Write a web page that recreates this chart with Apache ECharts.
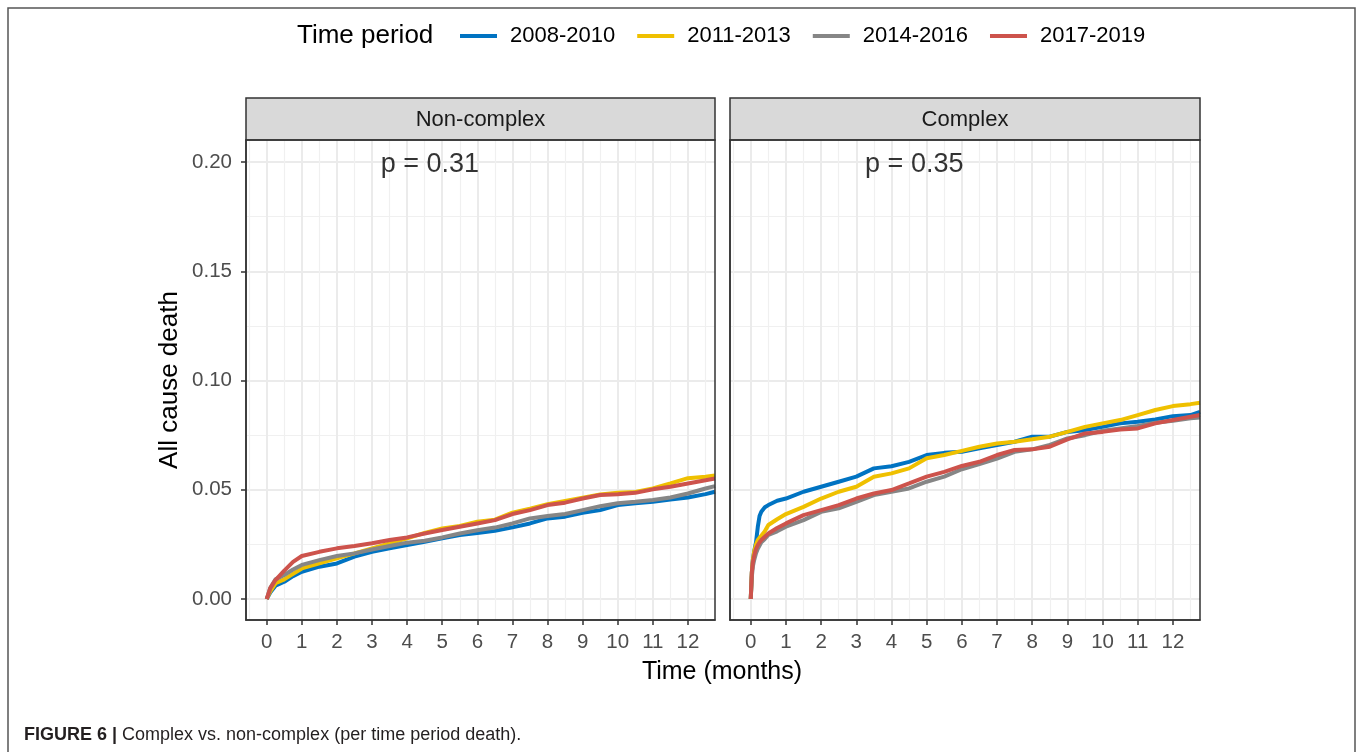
<!DOCTYPE html>
<html>
<head>
<meta charset="utf-8">
<title>Complex vs. non-complex</title>
<script src="https://cdn.jsdelivr.net/npm/echarts@6.0.0/dist/echarts.min.js"></script>
<style>
  html, body { margin: 0; padding: 0; background: #fff; }
  #chart { width: 1357px; height: 752px; }
</style>
</head>
<body>
<div id="chart"></div>
<script>
// 分组与面板
const periods = ['2008-2010', '2011-2013', '2014-2016', '2017-2019']
const panels = ['Non-complex', 'Complex']
const pValues = ['p = 0.31', 'p = 0.35']

// 刻度
const monthTicks = [0, 1, 2, 3, 4, 5, 6, 7, 8, 9, 10, 11, 12]
const monthMinor = [-0.5, 0.5, 1.5, 2.5, 3.5, 4.5, 5.5, 6.5, 7.5, 8.5, 9.5, 10.5, 11.5, 12.5]
const deathTicks = [0, 0.05, 0.1, 0.15, 0.2]
const deathMinor = [0.025, 0.075, 0.125, 0.175]

// Non-complex 面板（月份 / 累计死亡）
const timeNonComplex = [0, 0.1, 0.25, 0.5, 0.75, 1, 1.5, 2, 2.5, 3, 3.5, 4, 4.5, 5, 5.5, 6, 6.5, 7, 7.5, 8, 8.5, 9, 9.5, 10, 10.5, 11, 11.5, 12, 12.5, 12.77]
const nonComplex2008 = [0, 0.003, 0.0061, 0.0079, 0.0105, 0.0125, 0.0148, 0.0163, 0.0194, 0.0216, 0.0232, 0.0247, 0.0262, 0.0278, 0.0293, 0.0302, 0.0312, 0.0328, 0.0346, 0.0369, 0.0377, 0.0395, 0.0407, 0.043, 0.0438, 0.0445, 0.0456, 0.0465, 0.048, 0.0491]
const nonComplex2011 = [0, 0.0035, 0.0072, 0.009, 0.0115, 0.014, 0.0163, 0.0186, 0.0209, 0.0232, 0.0255, 0.0278, 0.0303, 0.0323, 0.0334, 0.0354, 0.0363, 0.0395, 0.0414, 0.0434, 0.0449, 0.0464, 0.0478, 0.0486, 0.049, 0.0506, 0.0529, 0.0553, 0.056, 0.0565]
const nonComplex2014 = [0, 0.005, 0.009, 0.011, 0.0135, 0.0156, 0.0178, 0.0197, 0.0209, 0.0227, 0.0243, 0.0258, 0.0267, 0.0282, 0.03, 0.0315, 0.0327, 0.0346, 0.0369, 0.038, 0.0389, 0.0407, 0.0425, 0.0438, 0.0445, 0.0453, 0.0465, 0.0483, 0.0506, 0.0517]
const nonComplex2017 = [0, 0.005, 0.0087, 0.013, 0.017, 0.0197, 0.0216, 0.0232, 0.0243, 0.0255, 0.027, 0.0282, 0.03, 0.0316, 0.0331, 0.0346, 0.0361, 0.0389, 0.0407, 0.043, 0.0441, 0.046, 0.0476, 0.048, 0.0486, 0.0502, 0.0514, 0.0529, 0.0544, 0.0552]

// Complex 面板
const timeComplex = [0, 0.03, 0.06, 0.1, 0.15, 0.2, 0.25, 0.3, 0.4, 0.5, 0.75, 1, 1.5, 2, 2.5, 3, 3.5, 4, 4.5, 5, 5.5, 6, 6.5, 7, 7.5, 8, 8.5, 9, 9.5, 10, 10.5, 11, 11.5, 12, 12.5, 12.77]
const complex2008 = [0, 0.012, 0.018, 0.022, 0.026, 0.033, 0.038, 0.04, 0.042, 0.043, 0.045, 0.046, 0.0491, 0.0514, 0.0537, 0.056, 0.0598, 0.0608, 0.0628, 0.0659, 0.0669, 0.0674, 0.069, 0.0705, 0.072, 0.0743, 0.0743, 0.0765, 0.0773, 0.0788, 0.0804, 0.0811, 0.0822, 0.0837, 0.0842, 0.0857]
const complex2011 = [0, 0.012, 0.018, 0.022, 0.025, 0.027, 0.028, 0.029, 0.031, 0.0339, 0.0365, 0.0389, 0.0422, 0.046, 0.0491, 0.0514, 0.056, 0.0575, 0.0598, 0.0644, 0.0659, 0.0678, 0.0697, 0.0712, 0.072, 0.0731, 0.0743, 0.0765, 0.0788, 0.0804, 0.0819, 0.0842, 0.0865, 0.0883, 0.0892, 0.0898]
const complex2014 = [0, 0.01, 0.015, 0.018, 0.021, 0.023, 0.0245, 0.026, 0.0275, 0.0293, 0.031, 0.0331, 0.0361, 0.0399, 0.0415, 0.0445, 0.0476, 0.0491, 0.0506, 0.0537, 0.056, 0.0594, 0.0618, 0.0643, 0.0674, 0.0685, 0.0705, 0.0735, 0.075, 0.077, 0.0781, 0.0792, 0.0807, 0.0816, 0.0827, 0.0831]
const complex2017 = [0, 0.012, 0.017, 0.02, 0.023, 0.0247, 0.026, 0.027, 0.0285, 0.03, 0.0325, 0.0346, 0.0384, 0.0407, 0.043, 0.046, 0.0483, 0.0499, 0.0529, 0.056, 0.0582, 0.0609, 0.0628, 0.0659, 0.0682, 0.0685, 0.0697, 0.0731, 0.0758, 0.0765, 0.0776, 0.0781, 0.0804, 0.0819, 0.0834, 0.0842]

const colors = ['#0073C2', '#EFC000', '#868686', '#CD534C']
const font = '"Liberation Sans", Arial, Helvetica, sans-serif'

// 面板位置
const panelBoxes = [
  { left: 246, top: 140, width: 469, height: 480 },
  { left: 730, top: 140, width: 470, height: 480 }
]
const X_MIN = -0.59
const X_MAX = 12.77
const Y_MIN = -0.0096
const Y_MAX = 0.2101

const toPairs = (t, v) => t.map((x, i) => [x, v[i]])

const seriesData = [
  [nonComplex2008, nonComplex2011, nonComplex2014, nonComplex2017],
  [complex2008, complex2011, complex2014, complex2017]
]
const seriesTimes = [timeNonComplex, timeComplex]

const gridLine = { color: '#EBEBEB', width: 2 }
const minorLine = { color: '#F0F0F0', width: 1.2 }

const xAxes = []
const yAxes = []
panelBoxes.forEach((box, p) => {
  // 主轴
  xAxes.push({
    type: 'value', gridIndex: p, min: X_MIN, max: X_MAX,
    axisLine: { show: true, onZero: false, lineStyle: { color: '#333', width: 1.5 } },
    axisTick: { show: true, customValues: monthTicks, length: 5, lineStyle: { color: '#333', width: 1.5 } },
    axisLabel: { show: true, customValues: monthTicks, color: '#4D4D4D', fontSize: 20.5, fontFamily: font, margin: 12 },
    splitLine: { show: true, lineStyle: gridLine }
  })
  // 次网格
  xAxes.push({
    type: 'value', gridIndex: p, min: X_MIN, max: X_MAX,
    axisLine: { show: false }, axisTick: { show: false, customValues: monthMinor },
    axisLabel: { show: false }, splitLine: { show: true, lineStyle: minorLine }
  })
  yAxes.push({
    type: 'value', gridIndex: p, min: Y_MIN, max: Y_MAX,
    axisLine: { show: true, onZero: false, lineStyle: { color: '#333', width: 1.5 } },
    axisTick: { show: p === 0, customValues: deathTicks, length: 5, lineStyle: { color: '#333', width: 1.5 } },
    axisLabel: {
      show: p === 0, customValues: deathTicks, color: '#4D4D4D', fontSize: 20.5, fontFamily: font, margin: 14,
      formatter: (v) => v.toFixed(2)
    },
    splitLine: { show: true, lineStyle: gridLine }
  })
  yAxes.push({
    type: 'value', gridIndex: p, min: Y_MIN, max: Y_MAX,
    axisLine: { show: false }, axisTick: { show: false, customValues: deathMinor },
    axisLabel: { show: false }, splitLine: { show: true, lineStyle: minorLine }
  })
})

const series = []
panelBoxes.forEach((box, p) => {
  periods.forEach((name, s) => {
    series.push({
      name,
      type: 'line',
      xAxisIndex: p * 2,
      yAxisIndex: p * 2,
      data: toPairs(seriesTimes[p], seriesData[p][s]),
      showSymbol: false,
      symbol: 'none',
      lineStyle: { color: colors[s], width: 4 },
      itemStyle: { color: colors[s] },
      z: 3 + s
    })
  })
  // p 值标注
  series.push({
    type: 'scatter',
    xAxisIndex: p * 2,
    yAxisIndex: p * 2,
    data: [[3.25, 0.2]],
    symbolSize: 0,
    silent: true,
    label: {
      show: true, position: 'right', distance: 0, offset: [0, 2],
      formatter: pValues[p], color: '#000', fontSize: 27, fontFamily: font
    }
  })
})

const graphics = [
  // 外框
  { type: 'rect', shape: { x: 8, y: 8, width: 1347, height: 800 }, style: { fill: 'none', stroke: '#555', lineWidth: 1.5 }, silent: true },
  // 图例标题
  { type: 'text', x: 297, y: 36, style: { text: 'Time period', fontSize: 26, fontFamily: font, fill: '#000', textVerticalAlign: 'middle' } },
  // 坐标轴标题
  { type: 'text', x: 170, y: 380, rotation: Math.PI / 2, style: { text: 'All cause death', fontSize: 26, fontFamily: font, fill: '#000', textAlign: 'center', textVerticalAlign: 'middle' } },
  { type: 'text', x: 722, y: 672, style: { text: 'Time (months)', fontSize: 25, fontFamily: font, fill: '#000', textAlign: 'center', textVerticalAlign: 'middle' } },
  // 图注
  {
    type: 'text', x: 24, y: 735,
    style: {
      text: '{b|FIGURE 6 | }{n|Complex vs. non-complex (per time period death).}',
      textVerticalAlign: 'middle',
      rich: {
        b: { fontSize: 18, fontWeight: 'bold', fontFamily: font, fill: '#231F20' },
        n: { fontSize: 18, fontFamily: font, fill: '#231F20' }
      }
    }
  }
]
panelBoxes.forEach((box, p) => {
  graphics.push({
    type: 'rect', z: 50,
    shape: { x: box.left, y: 98, width: box.width, height: 42 },
    style: { fill: '#D9D9D9', stroke: '#333', lineWidth: 1.5 }
  })
  graphics.push({
    type: 'text', z: 51, x: box.left + box.width / 2, y: 120,
    style: { text: panels[p], fontSize: 22, fontFamily: font, fill: '#1A1A1A', textAlign: 'center', textVerticalAlign: 'middle' }
  })
  graphics.push({
    type: 'rect', z: 50,
    shape: { x: box.left, y: box.top, width: box.width, height: box.height },
    style: { fill: 'none', stroke: '#333', lineWidth: 1.5 }
  })
})

const option = {
  animation: false,
  backgroundColor: '#fff',
  textStyle: { fontFamily: font },
  legend: {
    data: periods,
    left: 460,
    top: 25,
    padding: 0,
    icon: 'rect',
    itemWidth: 37,
    itemHeight: 4,
    itemGap: 22,
    textStyle: { fontSize: 22, color: '#000', fontFamily: font, padding: [0, 0, 0, 8] },
    selectedMode: false
  },
  grid: panelBoxes.map((b) => ({ ...b, show: false, containLabel: false })),
  xAxis: xAxes,
  yAxis: yAxes,
  series,
  graphic: graphics
}

const chart = echarts.init(document.getElementById('chart'), null, { renderer: 'canvas' })
chart.setOption(option)
window.addEventListener('resize', () => chart.resize())
</script>
</body>
</html>
